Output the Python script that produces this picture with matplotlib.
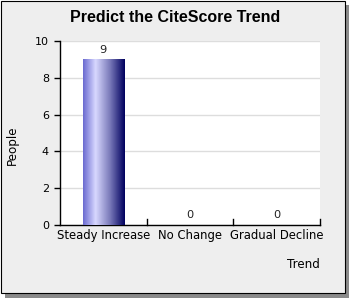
import matplotlib
matplotlib.use("Agg")
import matplotlib.pyplot as plt
import numpy as np
from matplotlib.patches import Rectangle
from matplotlib.colors import LinearSegmentedColormap

categories = ["Steady Increase", "No Change", "Gradual Decline"]
values = [9, 0, 0]
yticks = [0, 2, 4, 6, 8, 10]
title = "Predict the CiteScore Trend"
xlabel = "Trend"
ylabel = "People"

W, H = 350, 300
fig = plt.figure(figsize=(W/100, H/100), dpi=100)
fig.patch.set_facecolor("white")

def px(x0, y0, x1, y1):
    return (x0/W, 1-y1/H), (x1-x0)/W, (y1-y0)/H

# shadow
xy, w, h = px(5, 5, 349, 298)
fig.patches.append(Rectangle(xy, w, h, transform=fig.transFigure, facecolor="#8a8a8a", edgecolor="none", zorder=0))
xy, w, h = px(1, 1, 345, 293)
fig.patches.append(Rectangle(xy, w, h, transform=fig.transFigure, facecolor="#eeeeee", edgecolor="black", linewidth=0.8, zorder=1))

ax = fig.add_axes([60/W, 1-225/H, (320-60)/W, (225-41)/H])
ax.set_facecolor("white")
ax.set_zorder(2)

n = len(categories)
x = np.arange(n)

cmap = LinearSegmentedColormap.from_list("g", [(0, "#6a6ad0"), (0.3, "#d8d8ff"), (0.65, "#7878b8"), (1.0, "#00005e")])
grad = np.linspace(0, 1, 256).reshape(1, -1)
bw = 0.48
for xi, v in zip(x, values):
    if v > 0:
        ax.imshow(grad, cmap=cmap, aspect="auto", extent=(xi-bw/2, xi+bw/2, 0, v), zorder=3)
    ax.text(xi, v + 0.25, str(v), ha="center", va="bottom", fontsize=8.2, family="DejaVu Sans", color="#222222")
ax.set_xlim(-0.5, n-0.5)
ax.set_ylim(0, 10)

ax.set_yticks(yticks)
ax.set_yticklabels([str(t) for t in yticks], fontsize=8)
ax.yaxis.grid(True, color="#dddddd", linewidth=1)
ax.set_axisbelow(True)
ax.set_xticks(x)
ax.set_xticklabels(categories, fontsize=8.4)
ax.tick_params(axis="x", length=0, pad=3)
ax.tick_params(axis="y", length=4, width=1, pad=4)
for b in [0.5, 1.5, 2.5]:
    ax.plot([b, b], [0, 0.3], color="black", linewidth=1, clip_on=False, zorder=4)
for s in ["top", "right"]:
    ax.spines[s].set_visible(False)
for s in ["left", "bottom"]:
    ax.spines[s].set_linewidth(1)

fig.text(175/W, 1-17/H, title, ha="center", va="center", fontsize=11.5, fontweight="bold", family="Liberation Sans")
fig.text(12/W, 1-145/H, ylabel, ha="center", va="center", rotation=90, fontsize=8.6, family="DejaVu Sans")
fig.text(320/W, 1-265/H, xlabel, ha="right", va="center", fontsize=8.6, family="DejaVu Sans")

fig.savefig("out.png", dpi=100)
